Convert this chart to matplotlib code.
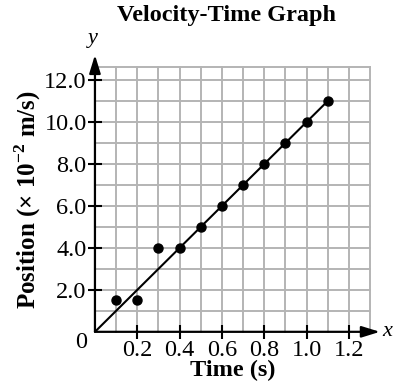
import matplotlib
matplotlib.use("Agg")
import matplotlib.pyplot as plt
import numpy as np

plt.rcParams['font.family'] = ['Liberation Serif', 'DejaVu Serif']
plt.rcParams['mathtext.fontset'] = 'custom'
plt.rcParams['mathtext.rm'] = 'Liberation Serif:bold'
plt.rcParams['mathtext.bf'] = 'Liberation Serif:bold'

time_s = [0.1, 0.2, 0.3, 0.4, 0.5, 0.6, 0.7, 0.8, 0.9, 1.0, 1.1]
position = [1.5, 1.5, 4.0, 4.0, 5.0, 6.0, 7.0, 8.0, 9.0, 10.0, 11.0]
fit_x = [0.0, 1.1]
fit_y = [0.0, 11.0]
x_ticks = [0.2, 0.4, 0.6, 0.8, 1.0, 1.2]
x_tick_labels = ['0.2', '0.4', '0.6', '0.8', '1.0', '1.2']
y_ticks = [2, 4, 6, 8, 10, 12]
y_tick_labels = ['2.0', '4.0', '6.0', '8.0', '10.0', '12.0']

fig = plt.figure(figsize=(3.94, 3.89), dpi=100)
ax = fig.add_axes([0.241, 0.147, 0.698, 0.681])
xmax, ymax = 1.3, 12.63
ax.set_xlim(0, xmax)
ax.set_ylim(0, ymax)
for s in ax.spines.values():
    s.set_visible(False)

grid_c = '#b4b4b4'
for gx in np.arange(0.1, 1.31, 0.1):
    ax.plot([gx, gx], [0, ymax], color=grid_c, lw=1.4, zorder=1, clip_on=False)
for gy in range(1, 13):
    ax.plot([0, xmax], [gy, gy], color=grid_c, lw=1.4, zorder=1, clip_on=False)
ax.plot([0, xmax], [ymax, ymax], color=grid_c, lw=1.4, zorder=1, clip_on=False)

# axes with arrows
astyle = '-|>,head_length=0.55,head_width=0.17'
ax.annotate('', xy=(1.347, 0), xytext=(0, 0), annotation_clip=False,
            arrowprops=dict(arrowstyle=astyle, color='black', lw=1.6,
                            mutation_scale=20, shrinkA=0, shrinkB=0), zorder=4)
ax.annotate('', xy=(0, 13.2), xytext=(0, 0), annotation_clip=False,
            arrowprops=dict(arrowstyle=astyle, color='black', lw=1.6,
                            mutation_scale=20, shrinkA=0, shrinkB=0), zorder=4)
ax.text(1.356, 0, 'x', style='italic', fontsize=16, va='center', ha='left')
ax.text(-0.012, 13.55, 'y', style='italic', fontsize=16, va='bottom', ha='center')
ax.text(-0.035, -0.0, '0', fontsize=17.5, va='top', ha='right')

ax.plot(fit_x, fit_y, color='black', lw=1.5, zorder=3)
ax.plot(time_s, position, 'o', color='black', ms=6.5, zorder=5, clip_on=False)

ax.set_xticks(x_ticks)
ax.set_xticklabels(x_tick_labels)
ax.set_yticks(y_ticks)
ax.set_yticklabels(y_tick_labels)
ax.tick_params(direction='inout', length=10, width=1.5, labelsize=17.5, pad=1)

ax.set_xlabel('Time (s)', fontsize=17.5, fontweight='bold', labelpad=-1)
ax.set_ylabel('Position (× 10$^{-2}$ m/s)', fontsize=18, fontweight='bold', labelpad=1)
fig.text(0.575, 0.96, 'Velocity-Time Graph', fontsize=17.5, fontweight='bold',
         ha='center', va='center')

fig.savefig('out.png', dpi=100)
